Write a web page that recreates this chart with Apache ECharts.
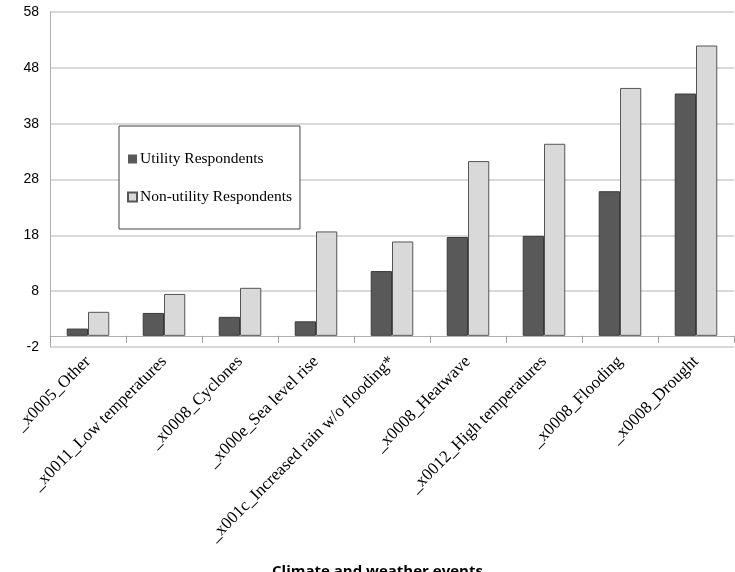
<!DOCTYPE html>
<html>
<head>
<meta charset="utf-8">
<script src="https://cdn.jsdelivr.net/npm/echarts@6/dist/echarts.min.js"></script>
<style>
  html, body { margin: 0; padding: 0; background: #fff; }
  #chart { width: 735px; height: 572px; }
</style>
</head>
<body>
<div id="chart"></div>
<script>
const categories = [
  "_x0005_Other",
  "_x0011_Low temperatures",
  "_x0008_Cyclones",
  "_x000e_Sea level rise",
  "_x001c_Increased rain w/o flooding*",
  "_x0008_Heatwave",
  "_x0012_High temperatures",
  "_x0008_Flooding",
  "_x0008_Drought"
];
const utility = [1.3, 4.1, 3.4, 2.6, 11.6, 17.7, 17.9, 25.9, 43.4];
const nonUtility = [4.3, 7.5, 8.6, 18.7, 16.9, 31.3, 34.4, 44.4, 52.0];
const yTicks = { min: -2, max: 58, interval: 10 };

const chart = echarts.init(document.getElementById("chart"));
chart.setOption({
  animation: false,
  backgroundColor: "#fff",
  title: {
    text: "Climate and weather events",
    left: 272,
    top: 564,
    padding: 0,
    textStyle: { fontFamily: "Open Sans", fontWeight: "bold", fontSize: 15, color: "#000" }
  },
  legend: {
    orient: "vertical",
    left: 119,
    top: 126,
    padding: [25, 8, 24, 8],
    itemGap: 22,
    itemWidth: 9,
    itemHeight: 9,
    backgroundColor: "#fff",
    borderColor: "#444",
    borderWidth: 1,
    textStyle: { fontFamily: "Liberation Serif", fontSize: 15.5, color: "#000", padding: [0, 0, 0, -2] },
    data: [
      { name: "Utility Respondents", icon: "rect", itemStyle: { borderWidth: 0 } },
      { name: "Non-utility Respondents", icon: "rect" }
    ]
  },
  grid: { left: 50, right: 1, top: 12, bottom: 225 },
  xAxis: {
    type: "category",
    data: categories,
    axisLine: { onZero: true, lineStyle: { color: "#b0b0b0", width: 1 } },
    axisTick: { show: true, length: 7, lineStyle: { color: "#a0a0a0" } },
    axisLabel: {
      rotate: 45,
      interval: 0,
      margin: 12,
      fontFamily: "Liberation Serif",
      fontSize: 17,
      color: "#000"
    }
  },
  yAxis: {
    type: "value",
    min: yTicks.min,
    max: yTicks.max,
    interval: yTicks.interval,
    axisLine: { show: true, lineStyle: { color: "#b0b0b0", width: 1 } },
    axisTick: { show: false },
    axisLabel: { fontFamily: "Liberation Sans", fontSize: 14, color: "#000", margin: 11 },
    splitLine: { lineStyle: { color: "#cccccc", width: 1.5 } }
  },
  series: [
    {
      name: "Utility Respondents",
      type: "bar",
      data: utility,
      barGap: "0%",
      barCategoryGap: "44%",
      itemStyle: { color: "#595959", borderColor: "#3a3a3a", borderWidth: 1 }
    },
    {
      name: "Non-utility Respondents",
      type: "bar",
      data: nonUtility,
      itemStyle: { color: "#d9d9d9", borderColor: "#555555", borderWidth: 1 }
    }
  ]
});
</script>
</body>
</html>
